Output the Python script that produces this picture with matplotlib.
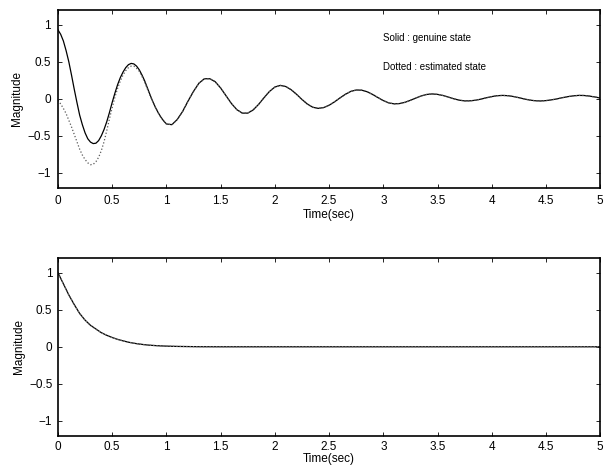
import numpy as np
import matplotlib
matplotlib.use('Agg')
import matplotlib.pyplot as plt

# sample times (sec): 0.025 s steps up to 1 s, then 0.05 s steps
time = np.concatenate([np.linspace(0, 1, 41), np.linspace(1.05, 5, 80)])

# top panel: genuine state (solid)
genuine = [0.93, 0.87, 0.78, 0.65, 0.50, 0.32, 0.13, -0.05, -0.22, -0.35,
           -0.46, -0.54, -0.585, -0.605, -0.60, -0.565, -0.50, -0.415, -0.31, -0.185,
           -0.05, 0.075, 0.19, 0.285, 0.36, 0.42, 0.46, 0.477, 0.47, 0.44,
           0.39, 0.32, 0.24, 0.145, 0.05, -0.04, -0.12, -0.19, -0.25, -0.30,
           -0.34,
           -0.35, -0.28, -0.17, -0.03, 0.10, 0.21, 0.27, 0.27, 0.23,
           0.145, 0.04, -0.065, -0.148, -0.194, -0.194, -0.151, -0.076, 0.014, 0.098,
           0.158, 0.18, 0.165, 0.122, 0.06, -0.01, -0.072, -0.115, -0.13, -0.119,
           -0.088, -0.042, 0.011, 0.06, 0.099, 0.118, 0.116, 0.095, 0.059, 0.016,
           -0.025, -0.056, -0.069, -0.065, -0.048, -0.021, 0.010, 0.038, 0.058, 0.065,
           0.059, 0.044, 0.022, -0.001, -0.019, -0.029, -0.028, -0.02, -0.005, 0.013,
           0.029, 0.041, 0.045, 0.041, 0.03, 0.014, -0.003, -0.018, -0.027, -0.03,
           -0.025, -0.015, -0.002, 0.014, 0.028, 0.039, 0.045, 0.044, 0.036, 0.024,
           0.01]

# estimated state (dotted) up to 0.9 s, afterwards it lies on the genuine state
estimated_early = [-0.02, -0.07, -0.13, -0.20, -0.29, -0.38, -0.48, -0.58, -0.68, -0.76,
                   -0.82, -0.865, -0.89, -0.885, -0.85, -0.79, -0.70, -0.58, -0.43, -0.27,
                   -0.12, 0.02, 0.14, 0.24, 0.32, 0.38, 0.42, 0.44, 0.44, 0.41,
                   0.37, 0.30, 0.22, 0.13, 0.04, -0.04, -0.12]
estimated = estimated_early + genuine[len(estimated_early):]

# bottom panel
time_b = [0, 0.05, 0.1, 0.15, 0.2, 0.25, 0.3, 0.35, 0.4, 0.45, 0.5, 0.55, 0.6,
          0.65, 0.7, 0.75, 0.8, 0.85, 0.9, 0.95, 1.0, 1.1, 1.2, 1.3, 1.5, 2, 3, 4, 5]
state_b = [1.00, 0.85, 0.70, 0.57, 0.45, 0.36, 0.29, 0.24, 0.19, 0.155, 0.125, 0.10,
           0.08, 0.062, 0.048, 0.037, 0.028, 0.021, 0.016, 0.012, 0.009, 0.005,
           0.003, 0.001, 0, 0, 0, 0, 0]

xticks = [0, 0.5, 1, 1.5, 2, 2.5, 3, 3.5, 4, 4.5, 5]
yticks = [-1, -0.5, 0, 0.5, 1]

matplotlib.rc('font', family=['Liberation Sans', 'DejaVu Sans'], size=8.5)

fig = plt.figure(figsize=(6.1, 4.68), dpi=100)
ax1 = fig.add_axes([0.095, 0.599, 0.889, 0.380])
ax2 = fig.add_axes([0.095, 0.069, 0.889, 0.380])


def style(ax, pad, labelpad):
    ax.set_xlim(0, 5)
    ax.set_ylim(-1.2, 1.2)
    ax.set_xticks(xticks)
    ax.set_xticklabels([('%g' % v) for v in xticks])
    ax.set_yticks(yticks)
    ax.set_yticklabels([('%g' % v).replace('-', '\u2212') for v in yticks])
    ax.tick_params(direction='in', length=3, width=0.6, top=True, right=True, pad=pad)
    for s in ax.spines.values():
        s.set_linewidth(1.2)
    ax.set_xlabel('Time(sec)', labelpad=labelpad)
    ax.set_ylabel('Magnitude', labelpad=3)


ax1.plot(time, genuine, color='black', lw=0.9)
ax1.plot(time, estimated, color='0.35', lw=0.9, linestyle=':')
ax1.text(3.0, 0.82, 'Solid : genuine state', va='center', ha='left', fontsize=7)
ax1.text(3.0, 0.43, 'Dotted : estimated state', va='center', ha='left', fontsize=7)
style(ax1, 5, 1.5)

ax2.plot(time_b, state_b, color='black', lw=0.9)
ax2.plot(time_b, state_b, color='0.45', lw=0.9, linestyle=':')
style(ax2, 4, 0)

fig.savefig('out.png', dpi=100)
